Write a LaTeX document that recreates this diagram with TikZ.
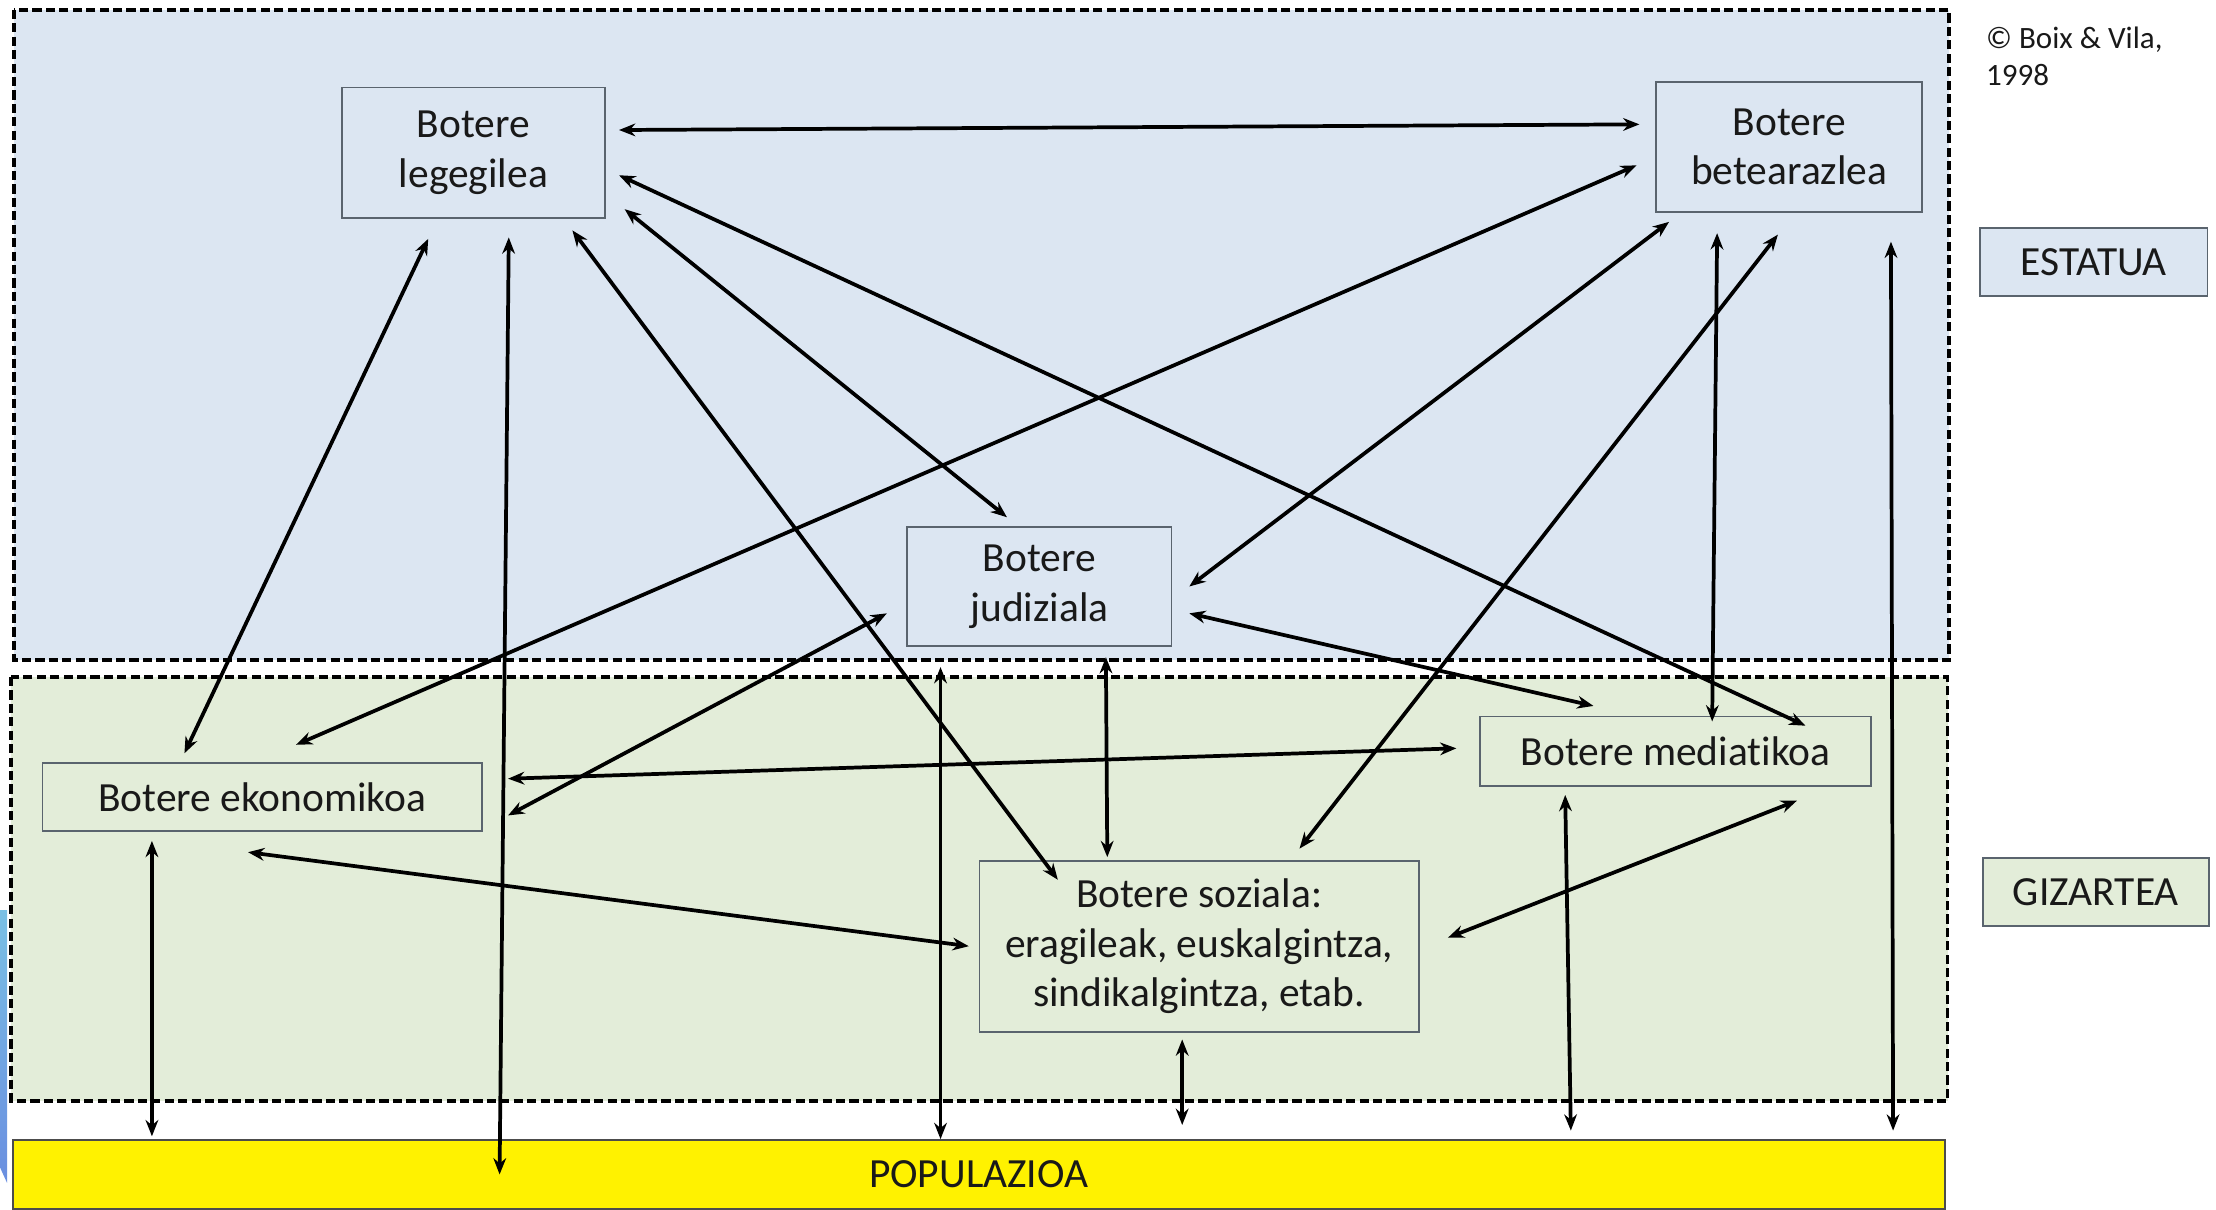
\documentclass[tikz,border=0pt]{standalone}
\usepackage{fontspec}
\setmainfont[Ligatures=NoCommon]{Carlito}
\usetikzlibrary{arrows}
\usetikzlibrary{arrows.meta}

\definecolor{estatublue}{RGB}{220,230,242}
\definecolor{gizartegreen}{RGB}{227,237,217}
\definecolor{boxline}{RGB}{90,100,110}
\definecolor{textgray}{RGB}{25,25,25}

\begin{document}
\begin{tikzpicture}[x=0.2mm,y=-0.2mm,font=\fontsize{16.7}{20}\selectfont,text=textgray,
    power/.style={draw=boxline,line width=0.7pt,align=center,inner sep=0pt},
    zone/.style={draw=black,line width=1.6pt,dash pattern=on 1.3mm off 0.6mm},
    link/.style={<->,>={Stealth[length=2.3mm,width=1.8mm]},line width=1.5pt}]

    \useasboundingbox (0,0) rectangle (1568,856);

    % slide edge on the left
    \shade[top color={rgb,255:red,122;green,192;blue,228},bottom color={rgb,255:red,106;green,142;blue,224}]
        (0,644) -- (5,644) -- (5,837) -- (0,826) -- cycle;

    % state and society zones
    \draw[zone,fill=estatublue] (10,7) rectangle (1379,467);
    \draw[zone,fill=gizartegreen] (8,479) rectangle (1378,779);

    % population bar
    \node[draw=black!70,line width=0.7pt,fill=yellow,inner sep=0pt,
        minimum width=273.4mm,minimum height=9.8mm] (pop) at (692.5,831) {POPULAZIOA};

    % powers
    \node[power,minimum width=37.2mm,minimum height=18.4mm] (leg) at (335,108) {Botere\\legegilea};
    \node[power,minimum width=37.6mm,minimum height=18.4mm] (bet) at (1266,104) {Botere\\betearazlea};
    \node[power,minimum width=37.4mm,minimum height=16.8mm] (jud) at (735.5,415) {Botere\\judiziala};
    \node[power,minimum width=62.2mm,minimum height=9.6mm] (eko) at (185.5,564) {Botere ekonomikoa};
    \node[power,minimum width=55.4mm,minimum height=9.8mm] (med) at (1185.5,531.5) {Botere mediatikoa};
    \node[power,minimum width=62.2mm,minimum height=24.2mm] (soz) at (848.5,669.5)
        {Botere soziala:\\eragileak, euskalgintza,\\sindikalgintza, etab.};

    % zone labels
    \node[power,fill=estatublue,minimum width=32.2mm,minimum height=9.6mm] (estatua) at (1481.5,185.5) {ESTATUA};
    \node[power,fill=gizartegreen,minimum width=32mm,minimum height=9.6mm] (gizartea) at (1483,631) {GIZARTEA};
    \node[anchor=west,align=left,inner sep=0pt,font=\fontsize{12.5}{14.7}\selectfont] (source) at (1405,40)
        {© Boix \& Vila,\\1998};

    % relations
    \foreach \s/\sx/\sy/\t/\tx/\ty in {
        leg/103/-16/bet/-106/-16, leg/103/16/med/92/-18, leg/107/40/jud/-23/-49,
        leg/70/55/soz/-100/-47, leg/25/60/pop/-339/0, leg/-32/61/eko/-55/-31,
        bet/-108/13/eko/24/-37, bet/-85/53/jud/106/0, bet/-51/61/med/26/-21,
        bet/-8/62/soz/71/-69, bet/72/67/pop/647/-31,
        jud/-108/19/eko/174/13, jud/106/19/med/-58/-32, jud/47/50/soz/-65/-63,
        jud/-70/57/pop/-27/-25,
        eko/174/-13/med/-155/-2, eko/-10/39/soz/-163/0, eko/-78/31/pop/-585/-27,
        med/86/35/soz/176/-6, med/-78/31/pop/419/-31,
        soz/-12/66/pop/144/-35}
        \draw[link] ([shift={(\sx,\sy)}]\s.center) -- ([shift={(\tx,\ty)}]\t.center);

\end{tikzpicture}
\end{document}
